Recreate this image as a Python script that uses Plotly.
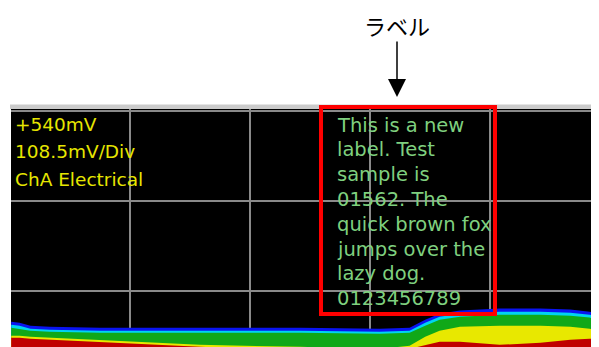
import plotly.graph_objects as go

# ---- Scope readout / label text ----
top_mv = 540
mv_per_div = 108.5
readout_lines = ["+540mV", "108.5mV/Div", "ChA Electrical"]
label_lines = ["This is a new", "label. Test", "sample is", "01562. The",
               "quick brown fox", "jumps over the", "lazy dog.", "0123456789"]
callout_text = "ラベル"

# ---- Persistence trace: x in divisions, top edge of each colour layer in mV ----
x_div = [0.01, 0.08, 0.17, 0.33, 0.75, 1.58, 2.42, 3.08, 3.33, 3.46, 3.58, 3.75, 4.08, 4.42, 4.67, 4.83, 4.91]
blue_top = [285.4, 284.2, 280.6, 279.4, 278.1, 278.1, 278.1, 276.9, 278.1, 287.8, 295.1, 298.8, 301.2, 301.2, 300.0, 297.5, 295.1]
cyan_top = [281.8, 280.6, 276.9, 275.7, 274.5, 274.5, 274.5, 273.3, 274.5, 284.2, 291.5, 295.1, 297.5, 297.5, 296.3, 293.9, 291.5]
green_top = [278.1, 276.9, 274.5, 273.3, 272.1, 272.1, 272.1, 270.9, 272.1, 280.6, 287.8, 291.5, 293.9, 293.9, 292.7, 290.3, 287.8]
yellow_top = [268.4, 268.4, 267.2, 266.0, 263.6, 257.5, 255.1, 252.7, 256.3, 267.2, 274.5, 279.4, 280.6, 280.6, 279.4, 276.9, 274.5]
red_top = [266.0, 266.0, 264.8, 263.6, 261.2, 255.1, 251.5, 251.5, 252.7, 257.5, 261.2, 261.2, 257.5, 260.0, 263.6, 264.8, 264.8]

layers = [
    ("blue", blue_top, "#0a14f0"),
    ("cyan", cyan_top, "#00d4f0"),
    ("green", green_top, "#10a818"),
    ("yellow", yellow_top, "#e8e800"),
    ("red", red_top, "#c00000"),
]

fig = go.Figure()
for name, ys, col in layers:
    fig.add_trace(go.Scatter(x=x_div, y=ys, mode="lines", line=dict(width=0, color=col),
                             fill="tozeroy", fillcolor=col, name=name, showlegend=False,
                             hoverinfo="skip"))

# page body adds an 8px offset; size the figure so it fills the window
OFF = 8
WIN_W, WIN_H = 599, 347
W, H = WIN_W - OFF, WIN_H - OFF
L_abs, T_abs = 11, 109           # screen-area edges in window pixels
L, T = L_abs - OFF, T_abs - OFF  # figure margins
pw, ph = WIN_W - L_abs, WIN_H - T_abs

def px_x(p):
    return (p - L_abs) / pw

def px_y(p):
    return 1 - (p - T_abs) / ph

mv_per_px = mv_per_div / 90.0
y_top = top_mv + 1.5 * mv_per_px
y_bot = top_mv - (WIN_H - 110.5) * mv_per_px

shapes = [
    # grey window strip above the screen
    dict(type="rect", xref="paper", yref="paper", x0=px_x(10), x1=1.0, y0=1.0, y1=px_y(104.5),
         line=dict(width=0), fillcolor="#cbcbcb", layer="above"),
    # red label frame
    dict(type="rect", xref="paper", yref="paper", x0=px_x(321), x1=px_x(495), y0=px_y(314), y1=px_y(107),
         line=dict(color="#ff0000", width=4), fillcolor="rgba(0,0,0,0)", layer="above"),
]

annotations = []
for i, t in enumerate(readout_lines):
    annotations.append(dict(text=t, xref="paper", yref="paper", x=px_x(13), y=px_y(124 + i * 27.5),
                            xanchor="left", yanchor="middle", showarrow=False,
                            font=dict(family="DejaVu Sans", size=18.5, color="#e6e600")))
for i, t in enumerate(label_lines):
    annotations.append(dict(text=t, xref="paper", yref="paper", x=px_x(335), y=px_y(125 + i * 24.8),
                            xanchor="left", yanchor="middle", showarrow=False,
                            font=dict(family="DejaVu Sans", size=19.5, color="#7fd07f")))
annotations.append(dict(text=callout_text, xref="paper", yref="paper", x=px_x(397), y=px_y(97),
                        ax=0, ay=-72, showarrow=True, arrowhead=2, arrowsize=2.4, arrowwidth=1.5,
                        arrowcolor="#000000", borderpad=0,
                        font=dict(family="Noto Sans CJK JP", size=22, color="#000000")))

fig.update_layout(
    width=W, height=H,
    margin=dict(l=L, r=0, t=T, b=0, pad=0),
    paper_bgcolor="#ffffff", plot_bgcolor="#000000",
    shapes=shapes, annotations=annotations, showlegend=False,
    xaxis=dict(range=[1 / 120, 589 / 120], tick0=0, dtick=1, showgrid=True, gridcolor="#8a8a8a",
               gridwidth=2, showticklabels=False, zeroline=False, showline=False, ticks="", fixedrange=True),
    yaxis=dict(range=[y_bot, y_top], tick0=top_mv, dtick=mv_per_div, showgrid=True, gridcolor="#8a8a8a",
               gridwidth=2, showticklabels=False, zeroline=False, showline=False, ticks="", fixedrange=True),
)

fig.write_html("out.html")
